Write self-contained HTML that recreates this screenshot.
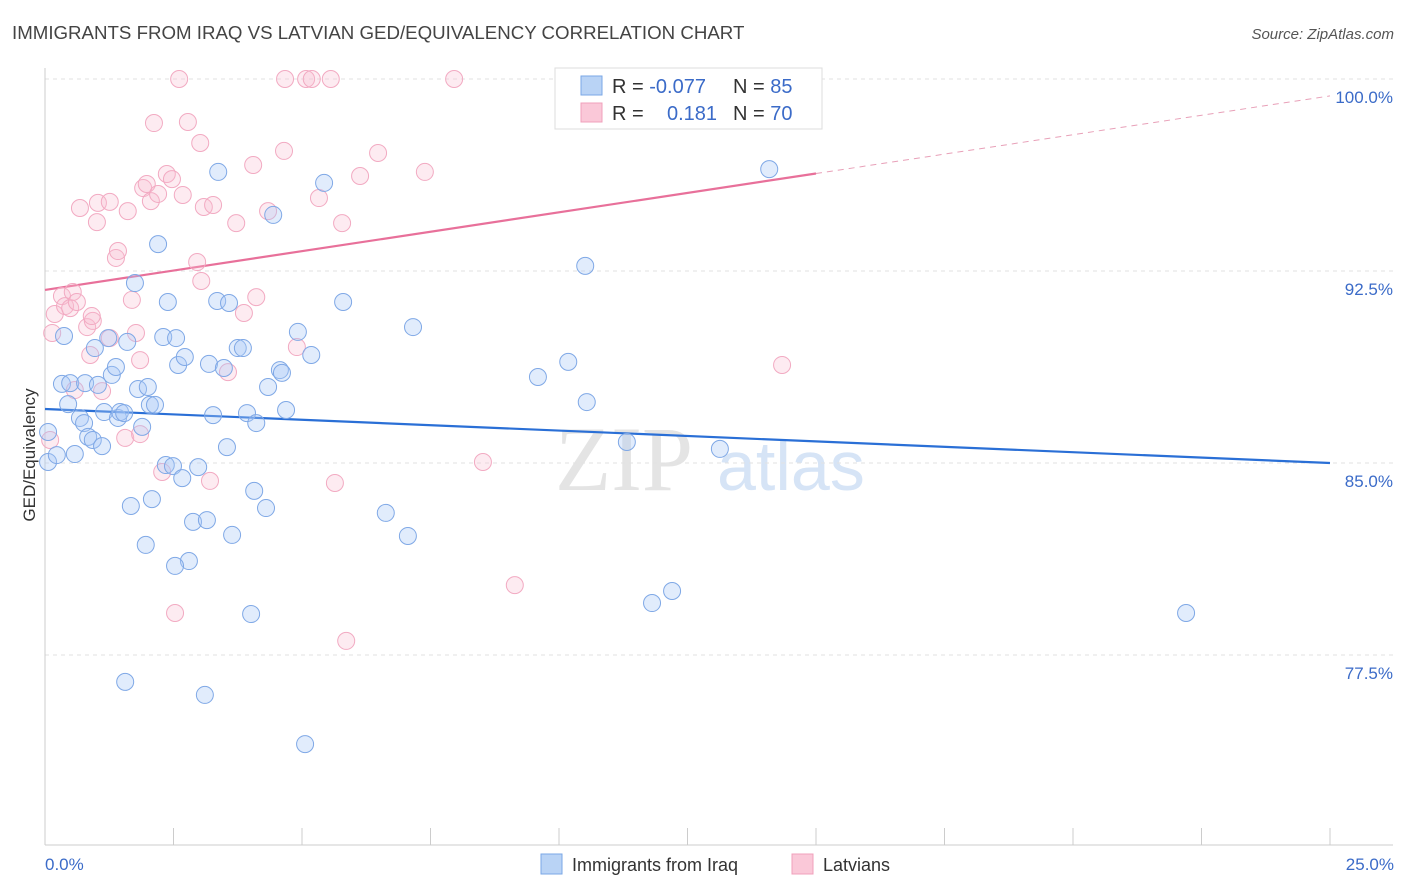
<!DOCTYPE html>
<html><head><meta charset="utf-8"><style>
body{margin:0;background:#fff;font-family:"Liberation Sans",sans-serif;}
svg{display:block}
</style></head><body>
<svg width="1406" height="892" xmlns="http://www.w3.org/2000/svg">
<text x="12" y="39" font-size="18.7" fill="#444">IMMIGRANTS FROM IRAQ VS LATVIAN GED/EQUIVALENCY CORRELATION CHART</text>
<text x="1394" y="39" font-size="15" fill="#555" font-style="italic" text-anchor="end">Source: ZipAtlas.com</text>
<g>
<text x="555" y="490" font-size="92" font-family="Liberation Serif,serif" fill="#e4e4e4">ZIP</text>
<text x="717" y="490" font-size="70" fill="#d6e4f6">atlas</text>
</g>
<g id="grid"></g>
<g id="axes"></g>
<g id="trend"></g>
<g id="pts"></g>
<text x="35" y="455" font-size="17" fill="#333" transform="rotate(-90 35 455)" text-anchor="middle">GED/Equivalency</text>
<text x="45" y="870" font-size="17" fill="#3b6bc8">0.0%</text>
<text x="1394" y="870" font-size="17" fill="#3b6bc8" text-anchor="end">25.0%</text>
<g>
<rect x="555" y="68" width="267" height="61" fill="#fff" stroke="#ddd"/>
<rect x="581" y="76" width="21" height="19" fill="#b9d3f5" stroke="#7aa7e6"/>
<rect x="581" y="103" width="21" height="19" fill="#fac8d8" stroke="#f0a0bb"/>
<text x="612" y="93" font-size="20" fill="#333">R = <tspan fill="#3b6bc8">-0.077</tspan></text>
<text x="733" y="93" font-size="20" fill="#333">N = <tspan fill="#3b6bc8">85</tspan></text>
<text x="612" y="120" font-size="20" fill="#333">R = </text>
<text x="667" y="120" font-size="20" fill="#3b6bc8">0.181</text>
<text x="733" y="120" font-size="20" fill="#333">N = <tspan fill="#3b6bc8">70</tspan></text>
</g>
<g>
<rect x="541" y="854" width="21" height="20" fill="#b9d3f5" stroke="#7aa7e6"/>
<text x="572" y="871" font-size="18" fill="#333">Immigrants from Iraq</text>
<rect x="792" y="854" width="21" height="20" fill="#fac8d8" stroke="#f0a0bb"/>
<text x="823" y="871" font-size="18" fill="#333">Latvians</text>
</g>
</svg>
<script>
const yTicks=[100,92.5,85,77.5];
const yTickLabels=["100.0%","92.5%","85.0%","77.5%"];
const blueX=[0.06,0.06,0.23,0.33,0.49,0.45,0.37,0.58,0.68,0.76,0.78,0.84,0.93,0.97,1.03,1.11,1.15,1.23,1.30,1.38,1.42,1.46,1.54,1.60,1.75,1.81,1.89,2.00,2.04,2.14,2.20,2.30,2.35,2.39,2.49,2.55,2.59,2.67,2.72,2.80,2.88,2.98,3.15,3.19,3.27,3.35,3.37,3.48,3.54,3.58,3.64,3.75,3.85,3.93,4.01,4.07,4.11,4.30,4.34,4.44,4.57,4.61,4.69,4.92,5.06,5.18,5.43,5.80,6.63,7.06,7.16,9.59,10.18,10.51,10.54,11.32,11.81,12.20,13.13,14.09,22.20,1.56,3.11,2.53,1.96,1.67,2.08];
const blueY=[86.21,85.04,85.31,88.09,88.12,87.30,89.96,85.35,86.76,86.56,88.12,86.02,85.90,89.49,88.05,85.66,86.99,89.88,88.44,88.75,86.76,86.99,86.95,89.73,92.03,87.89,86.41,87.97,87.27,87.27,93.55,89.92,84.92,91.29,84.88,89.88,88.83,84.41,89.14,81.17,82.70,84.84,82.77,88.87,86.87,91.33,96.37,88.71,85.62,91.25,82.19,89.49,89.49,86.95,79.10,83.91,86.56,83.24,87.97,94.69,88.63,88.52,87.07,90.12,74.02,89.22,95.94,91.29,83.05,82.15,90.31,88.36,88.95,92.70,87.38,85.82,79.53,80.00,85.55,96.48,79.14,76.45,75.94,80.98,81.80,83.32,83.59];
const pinkX=[0.10,0.14,0.19,0.33,0.39,0.49,0.54,0.62,0.68,0.82,0.88,0.93,1.01,1.03,1.11,1.26,1.38,1.42,1.56,1.61,1.69,1.77,1.85,1.91,1.98,2.06,2.12,2.20,2.28,2.37,2.47,2.53,2.61,2.68,2.78,2.96,3.02,3.04,3.09,3.21,3.27,3.56,3.72,3.87,4.05,4.11,4.34,4.65,4.67,4.90,5.08,5.19,5.33,5.56,5.64,5.78,5.86,6.13,6.48,7.39,7.96,8.52,9.14,10.37,13.64,14.34,0.91,0.58,1.26,1.85];
const pinkY=[85.90,90.08,90.82,91.52,91.13,91.05,91.68,91.29,94.96,90.31,89.22,90.55,94.41,95.16,87.81,95.20,93.01,93.28,85.98,94.84,91.37,90.08,89.02,95.74,95.90,95.23,98.28,95.51,84.65,96.29,96.09,79.14,100,95.47,98.32,92.85,97.50,92.11,95.00,84.30,95.08,88.55,94.37,90.86,96.64,91.48,94.84,97.19,100,89.53,100,100,95.35,100,84.22,94.37,78.05,96.21,97.11,96.37,100,85.04,80.23,100,100,88.83,90.74,87.85,89.88,86.13];
const blueTrend=[87.11,85.0];
const pinkTrend=[91.76,99.34];
const NS="http://www.w3.org/2000/svg";
const X=v=>45+v/25*1285;
const Y=v=>79+(100-v)/7.5*192;
function mk(tag,attrs,parent){const e=document.createElementNS(NS,tag);for(const k in attrs)e.setAttribute(k,attrs[k]);document.getElementById(parent).appendChild(e);return e;}
yTicks.forEach((t,i)=>{
 const l=mk('line',{x1:45,x2:1393,y1:Y(t),y2:Y(t),stroke:'#e2e2e2','stroke-dasharray':'4,4'},'grid');
 
 
 const tx=mk('text',{x:1393,y:Y(t)+24,'font-size':17,fill:'#3b6bc8','text-anchor':'end'},'grid');
 tx.textContent=yTickLabels[i];
 
 
});
const ax=mk('line',{x1:45,x2:45,y1:68,y2:845,stroke:'#ccc'},'axes');


const bx=mk('line',{x1:45,x2:1393,y1:845,y2:845,stroke:'#ccc'},'axes');


for(let i=0;i<=10;i++){
 const t=mk('line',{x1:X(i*2.5),x2:X(i*2.5),y1:828,y2:845,stroke:'#ccc'},'axes');
 
 
}
function dots(xs,ys,fill,stroke,name){
 xs.forEach((x,i)=>{
  const c=mk('circle',{cx:X(x),cy:Y(ys[i]),r:8.5,fill:fill,stroke:stroke,'stroke-width':1},'pts');
  
  
 });
}
dots(pinkX,pinkY,'rgba(248,190,210,0.3)','#f2aac2','latvian-point');
dots(blueX,blueY,'rgba(170,200,245,0.35)','#7fa8e6','iraq-point');
const bl=mk('line',{x1:X(0),y1:Y(blueTrend[0]),x2:X(25),y2:Y(blueTrend[1]),stroke:'#2a6fd6','stroke-width':2.2},'trend');


const pm=pinkTrend[0]+(pinkTrend[1]-pinkTrend[0])*0.6;
const pl=mk('line',{x1:X(0),y1:Y(pinkTrend[0]),x2:X(15),y2:Y(pm),stroke:'#e8709a','stroke-width':2.2},'trend');


const pd=mk('line',{x1:X(15),y1:Y(pm),x2:X(25),y2:Y(pinkTrend[1]),stroke:'#e8a0b8','stroke-width':1,'stroke-dasharray':'6,5'},'trend');


</script>
</body></html>
